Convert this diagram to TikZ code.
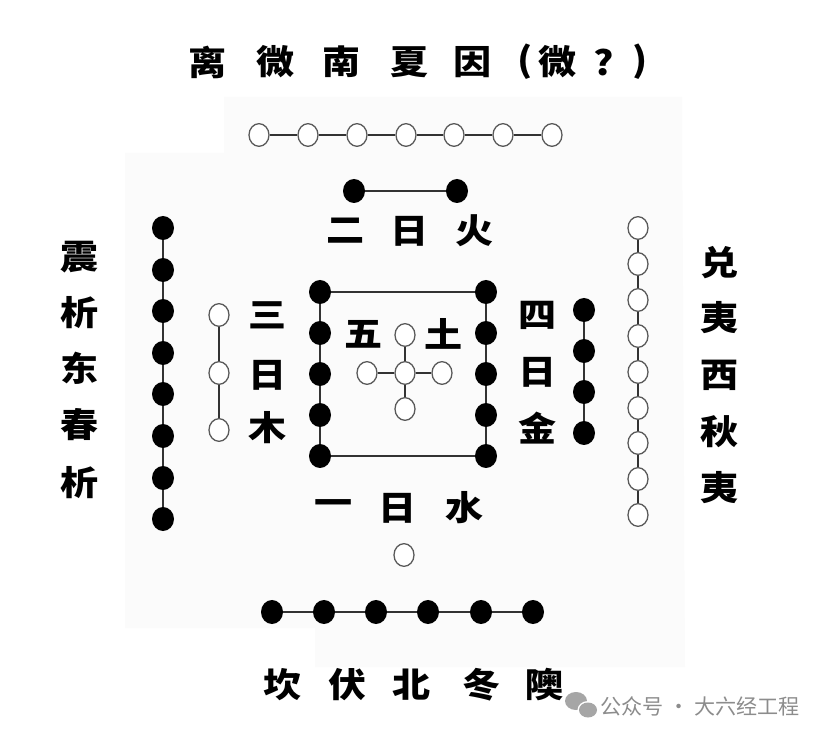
\documentclass[tikz,border=0pt]{standalone}
\usepackage{fontspec}
\usepackage{xcolor}
\usetikzlibrary{shapes.geometric}
\newfontfamily\cjk{Noto Sans CJK SC}[BoldFont={* Black},BoldFeatures={FakeStretch=1.12}]

\begin{document}
\begin{tikzpicture}[x=0.03cm,y=-0.03cm,
  yang/.style={ellipse,fill=black,inner sep=0pt,minimum width=0.66cm,minimum height=0.72cm},
  yin/.style={ellipse,draw=black!65,fill=white,line width=1.1pt,inner sep=0pt,minimum width=0.6cm,minimum height=0.68cm},
  lab/.style={inner sep=0pt,font=\cjk\bfseries\fontsize{29}{29}\selectfont},
  link/.style={draw=black!80,line width=1.7pt}]
\useasboundingbox (0,0) rectangle (831,739);
\fill[black!1.5] (224,97) -- (682,97) -- (685,667) -- (315,667) -- (315,628) -- (125,628) -- (125,153) -- (224,153) -- cycle;

% title
\node[lab] (ti1) at (208,62) {离};
\node[lab] (ti2) at (276,62) {微};
\node[lab] (ti3) at (342,62) {南};
\node[lab] (ti4) at (410,62) {夏};
\node[lab] (ti5) at (473,62) {因};
\node[lab] (ti6) at (525,62) {(};
\node[lab] (ti7) at (558,62) {微};
\node[lab] (ti8) at (604,62) {?};
\node[lab] (ti9) at (640,62) {)};

% south: seven
\node[yin] (s1) at (259,135) {};
\node[yin] (s2) at (308,135) {};
\node[yin] (s3) at (357,135) {};
\node[yin] (s4) at (406,135) {};
\node[yin] (s5) at (454,135) {};
\node[yin] (s6) at (503,135) {};
\node[yin] (s7) at (552,135) {};
\draw[link] (s1) -- (s2) (s2) -- (s3) (s3) -- (s4) (s4) -- (s5) (s5) -- (s6) (s6) -- (s7);

% south: two
\node[yang] (f1) at (354,191) {};
\node[yang] (f2) at (457,191) {};
\draw[link] (f1) -- (f2);
\node[lab] (fire1) at (346,231) {二};
\node[lab] (fire2) at (410,231) {日};
\node[lab] (fire3) at (475,231) {火};

% east: eight
\node[yang] (e1) at (163,228) {};
\node[yang] (e2) at (163,270) {};
\node[yang] (e3) at (163,311) {};
\node[yang] (e4) at (163,353) {};
\node[yang] (e5) at (163,394) {};
\node[yang] (e6) at (163,436) {};
\node[yang] (e7) at (163,478) {};
\node[yang] (e8) at (163,519) {};
\draw[link] (e1) -- (e2) (e2) -- (e3) (e3) -- (e4) (e4) -- (e5) (e5) -- (e6) (e6) -- (e7) (e7) -- (e8);
\node[lab] (east1) at (80,257) {震};
\node[lab] (east2) at (80,313) {析};
\node[lab] (east3) at (80,368) {东};
\node[lab] (east4) at (80,425) {春};
\node[lab] (east5) at (80,483) {析};

% east: three
\node[yin] (m1) at (219,315) {};
\node[yin] (m2) at (219,373) {};
\node[yin] (m3) at (219,430) {};
\draw[link] (m1) -- (m2) (m2) -- (m3);
\node[lab] (wood1) at (268,315) {三};
\node[lab] (wood2) at (268,375) {日};
\node[lab] (wood3) at (268,428) {木};

% centre: ten
\node[yang] (q1) at (320,292) {};
\node[yang] (q2) at (320,333) {};
\node[yang] (q3) at (320,374) {};
\node[yang] (q4) at (320,415) {};
\node[yang] (q5) at (320,456) {};
\node[yang] (r1) at (486,292) {};
\node[yang] (r2) at (486,333) {};
\node[yang] (r3) at (486,374) {};
\node[yang] (r4) at (486,415) {};
\node[yang] (r5) at (486,456) {};
\draw[link] (q1) -- (q2) (q2) -- (q3) (q3) -- (q4) (q4) -- (q5);
\draw[link] (r1) -- (r2) (r2) -- (r3) (r3) -- (r4) (r4) -- (r5);
\draw[link] (q1) -- (r1) (q5) -- (r5);

% centre: five
\node[yin] (c0) at (405,373) {};
\node[yin] (c1) at (405,335) {};
\node[yin] (c2) at (405,409) {};
\node[yin] (c3) at (367,373) {};
\node[yin] (c4) at (442,373) {};
\draw[link] (c0) -- (c1) (c0) -- (c2) (c0) -- (c3) (c0) -- (c4);
\node[lab] (earth1) at (364,334) {五};
\node[lab] (earth2) at (444,334) {土};

% west: four
\node[yang] (k1) at (584,310) {};
\node[yang] (k2) at (584,351) {};
\node[yang] (k3) at (584,392) {};
\node[yang] (k4) at (584,433) {};
\draw[link] (k1) -- (k2) (k2) -- (k3) (k3) -- (k4);
\node[lab] (metal1) at (538,315) {四};
\node[lab] (metal2) at (538,372) {日};
\node[lab] (metal3) at (538,428) {金};

% west: nine
\node[yin] (w1) at (638,228) {};
\node[yin] (w2) at (638,264) {};
\node[yin] (w3) at (638,300) {};
\node[yin] (w4) at (638,336) {};
\node[yin] (w5) at (638,372) {};
\node[yin] (w6) at (638,408) {};
\node[yin] (w7) at (638,443) {};
\node[yin] (w8) at (638,479) {};
\node[yin] (w9) at (638,515) {};
\draw[link] (w1) -- (w2) (w2) -- (w3) (w3) -- (w4) (w4) -- (w5) (w5) -- (w6) (w6) -- (w7) (w7) -- (w8) (w8) -- (w9);
\node[lab] (west1) at (720,263) {兑};
\node[lab] (west2) at (720,318) {夷};
\node[lab] (west3) at (720,375) {西};
\node[lab] (west4) at (720,432) {秋};
\node[lab] (west5) at (720,488) {夷};

% north: one and six
\node[lab] (water1) at (334,508) {一};
\node[lab] (water2) at (398,508) {日};
\node[lab] (water3) at (465,508) {水};
\node[yin] (n0) at (404,555) {};
\node[yang] (n1) at (272,612) {};
\node[yang] (n2) at (324,612) {};
\node[yang] (n3) at (376,612) {};
\node[yang] (n4) at (428,612) {};
\node[yang] (n5) at (481,612) {};
\node[yang] (n6) at (533,612) {};
\draw[link] (n1) -- (n2) (n2) -- (n3) (n3) -- (n4) (n4) -- (n5) (n5) -- (n6);
\node[lab] (north1) at (283,685) {坎};
\node[lab] (north2) at (348,685) {伏};
\node[lab] (north3) at (412,685) {北};
\node[lab] (north4) at (482,685) {冬};
\node[lab] (north5) at (545,685) {隩};

% mark
\fill[black!35] (576,701) ellipse (11 and 9);
\fill[white] (588,710) ellipse (10.5 and 9);
\fill[black!35] (588,710) ellipse (9 and 7.5);
\node[anchor=west,inner sep=0pt,text=black!45,font=\cjk\fontsize{18}{18}\selectfont] (mark) at (600,706) {公众号 · 大六经工程};
\end{tikzpicture}
\end{document}
